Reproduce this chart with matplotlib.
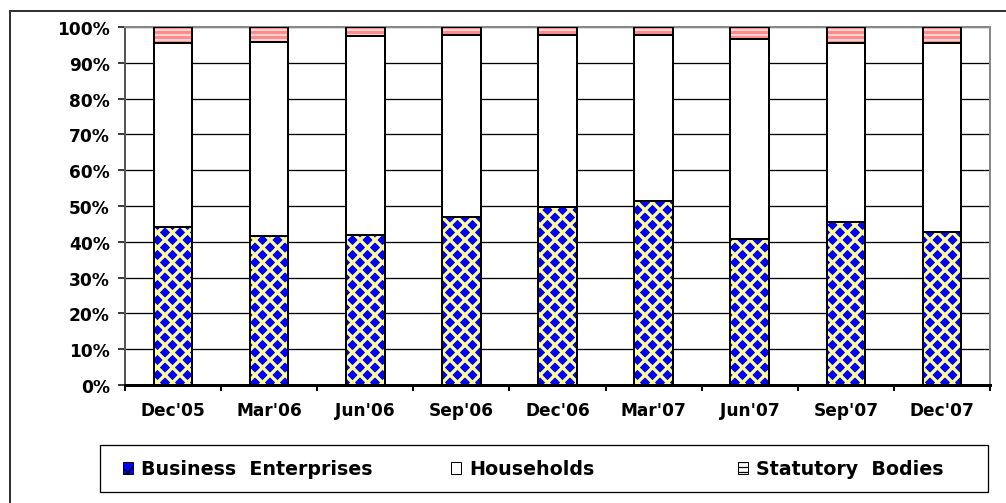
import matplotlib.pyplot as plt
import matplotlib.patches as mpatches
from matplotlib.ticker import PercentFormatter, FixedLocator
import numpy as np

plt.rcParams['font.family'] = ['DejaVu Sans']
plt.rcParams['font.weight'] = 'bold'

# data (percent shares)
periods = ["Dec'05", "Mar'06", "Jun'06", "Sep'06", "Dec'06",
           "Mar'07", "Jun'07", "Sep'07", "Dec'07"]
business = [44.0, 41.5, 42.0, 47.0, 49.8, 51.5, 40.7, 45.5, 42.7]
households = [51.6, 54.4, 55.6, 50.9, 48.1, 46.4, 55.9, 50.1, 52.9]
statutory = [100 - b - h for b, h in zip(business, households)]
names = ['Business  Enterprises', 'Households', 'Statutory  Bodies']

DPI = 90
W, H = 1006, 504


def pt(px):
    # pixels -> points at the chosen dpi
    return px * 72 / DPI


x = np.arange(len(periods))
w = 0.4

fig = plt.figure(figsize=(W / DPI, H / DPI), dpi=DPI)
ax = fig.add_axes([125 / W, 1 - 386 / H, 865 / W, 358 / H])

b_bot = np.zeros(len(x))
h_bot = np.array(business)
s_bot = h_bot + np.array(households)

# fills with patterns
with plt.rc_context({'hatch.linewidth': pt(3.3)}):
    bars_b = ax.bar(x, business, w, bottom=b_bot, color='#0000FF',
                    edgecolor='#FFFF99', hatch='xx', linewidth=0, zorder=3)
bars_h = ax.bar(x, households, w, bottom=h_bot, color='white',
                edgecolor='white', linewidth=0, zorder=3)
with plt.rc_context({'hatch.linewidth': pt(3.8)}):
    bars_s = ax.bar(x, statutory, w, bottom=s_bot, color='white',
                    edgecolor='#FF8C8C', hatch='---', linewidth=0, zorder=3)

# black outlines
for vals, bot in ((business, b_bot), (households, h_bot), (statutory, s_bot)):
    ax.bar(x, vals, w, bottom=bot, fill=False, edgecolor='black',
           linewidth=pt(2), zorder=4)

ax.set_xlim(-0.5, len(x) - 0.5)
ax.set_ylim(0, 100)
ax.set_yticks(np.arange(0, 101, 10))
ax.yaxis.set_major_formatter(PercentFormatter(decimals=0))
ax.yaxis.grid(True, color='black', linewidth=pt(1.3), zorder=1)
ax.set_axisbelow(True)

ax.set_xticks(x)
ax.set_xticklabels(periods)
ax.xaxis.set_minor_locator(FixedLocator(np.arange(-0.5, len(x), 1)))
ax.tick_params(axis='x', which='major', length=0, pad=pt(16), labelsize=pt(17))
ax.tick_params(axis='x', which='minor', length=pt(6), width=pt(2), direction='out')
ax.tick_params(axis='y', length=pt(7), width=pt(1.5), direction='out',
               pad=pt(8), labelsize=pt(17))
for lbl in ax.get_xticklabels() + ax.get_yticklabels():
    lbl.set_fontweight('bold')

ax.spines['left'].set_color('#555555')
ax.spines['left'].set_linewidth(pt(2))
ax.spines['bottom'].set_color('black')
ax.spines['bottom'].set_linewidth(pt(3))
ax.spines['bottom'].set_zorder(5)
for s in ('top', 'right'):
    ax.spines[s].set_color('#888888')
    ax.spines[s].set_linewidth(pt(2))

# outer chart border (cropped at right and bottom)
fig.patches.append(mpatches.Rectangle((10 / W, -0.2), 1.5, 1 - 12 / H + 0.2,
                                      transform=fig.transFigure, fill=False,
                                      edgecolor='#333333', linewidth=pt(2)))

# legend box and entries
fig.patches.append(mpatches.Rectangle((100 / W, 1 - 493 / H), 888 / W, 47 / H,
                                      transform=fig.transFigure, fill=False,
                                      edgecolor='black', linewidth=pt(1.3)))
entry_x = [123, 451, 738]
for bars, name, ex in zip((bars_b, bars_h, bars_s), names, entry_x):
    leg = fig.legend([bars[0]], [name], loc='center left',
                     bbox_to_anchor=(ex / W, 1 - 470 / H),
                     prop={'size': pt(19), 'weight': 'bold'}, frameon=False,
                     handlelength=0.55, handleheight=0.55, handletextpad=0.4,
                     borderpad=0, borderaxespad=0)
    for hnd in leg.legend_handles:
        hnd.set_edgecolor('black')
        hnd.set_linewidth(pt(1))

fig.savefig('out.png', dpi=DPI)
